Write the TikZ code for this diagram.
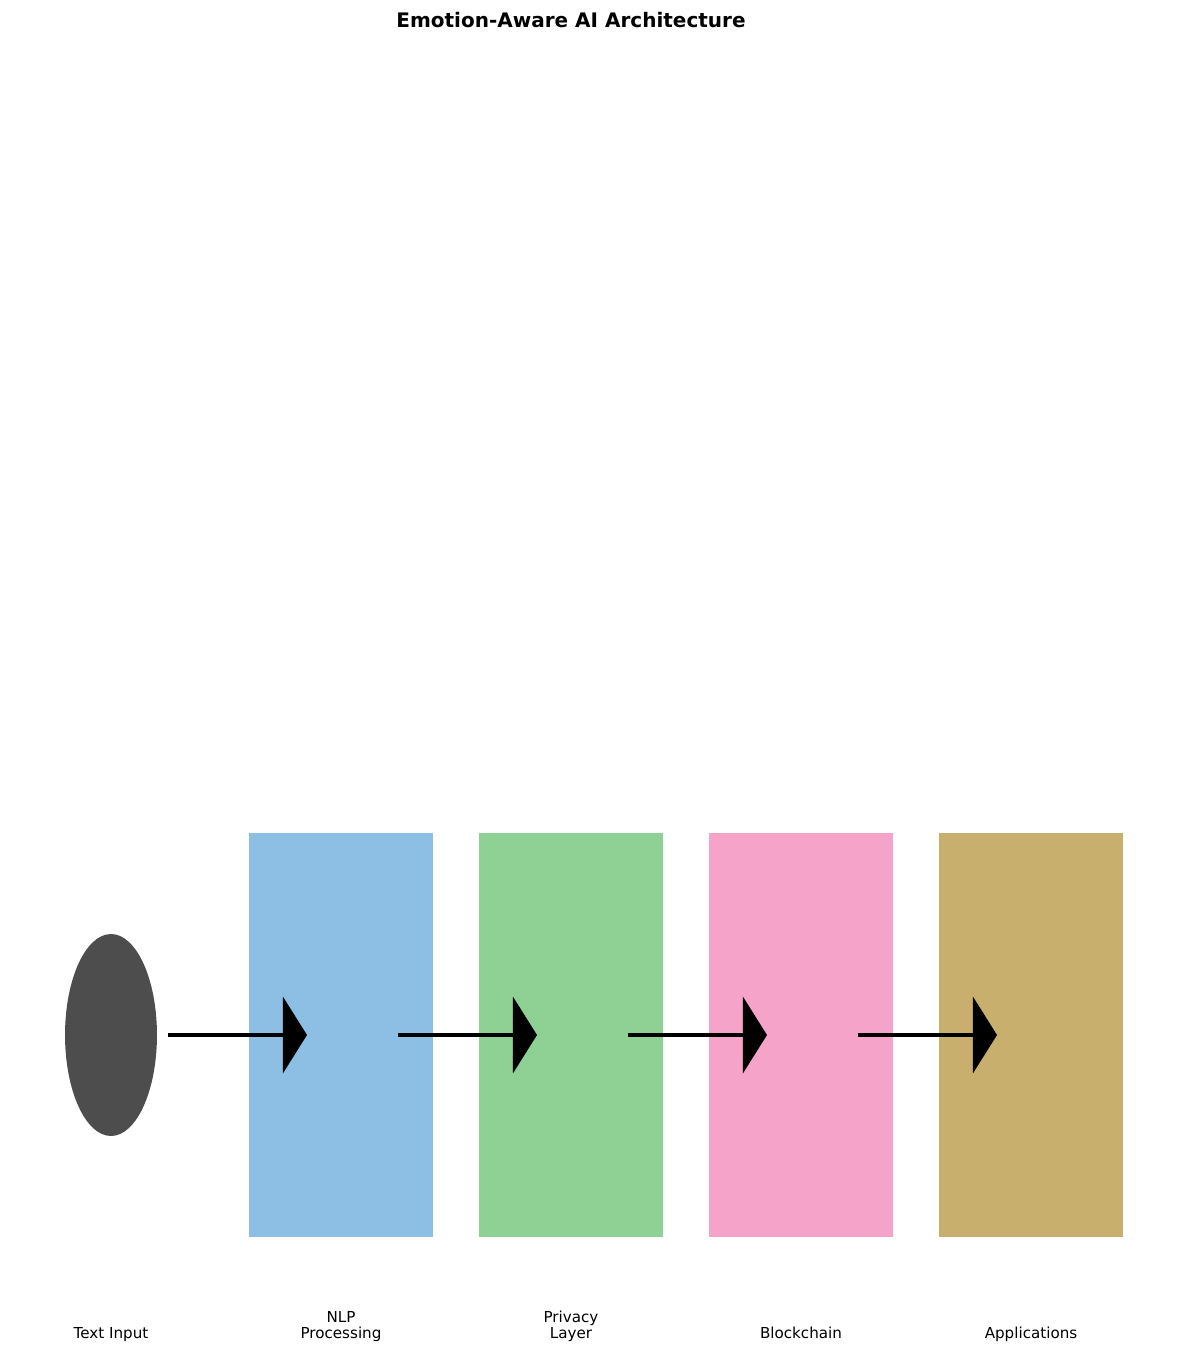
\documentclass[tikz,border=0pt]{standalone}
\usepackage{fontspec}
\setmainfont{DejaVu Sans}
\usepackage{xcolor}
\usepackage{tikz}
\usetikzlibrary{shapes.geometric, arrows.meta}
\definecolor{nlpblue}{HTML}{8DBFE4}
\definecolor{privgreen}{HTML}{8FD094}
\definecolor{chainpink}{HTML}{F5A3C8}
\definecolor{apptan}{HTML}{C9AF6D}
\definecolor{inputgray}{HTML}{4D4D4D}
\tikzstyle{source} = [ellipse, 
minimum width=66.2pt, 
minimum height=145.4pt, 
inner sep=0pt, 
draw=none, 
fill=inputgray]
\tikzstyle{layer} = [rectangle, 
minimum width=132.5pt, 
minimum height=290.9pt, 
inner sep=0pt, 
draw=none]
\tikzstyle{label} = [font=\fontsize{10.9}{12}\selectfont, 
align=center, 
inner sep=0pt, 
anchor=south]
\tikzstyle{arrow} = [line width=2.9pt,-{Triangle[length=17.3pt,width=54.7pt]}]

\begin{document}
\begin{tikzpicture}[x=0.72pt,y=-0.72pt]
\useasboundingbox (0,0) rectangle (1187,1353);

\node (title) [font=\fontsize{14.4}{17}\selectfont\bfseries, anchor=base] at (571,28) {Emotion-Aware AI Architecture};

\node (input) [source] at (111,1035) {};
\node (nlp) [layer, fill=nlpblue] at (341,1035) {};
\node (privacy) [layer, fill=privgreen] at (571,1035) {};
\node (chain) [layer, fill=chainpink] at (801,1035) {};
\node (apps) [layer, fill=apptan] at (1031,1035) {};

% arrow ends sit inside the next block
\coordinate (in_end) at (307,1035);
\coordinate (nlp_start) at (398,1035);
\coordinate (nlp_end) at (537,1035);
\coordinate (privacy_start) at (628,1035);
\coordinate (privacy_end) at (767,1035);
\coordinate (chain_start) at (858,1035);
\coordinate (chain_end) at (997,1035);

\draw [arrow] ([xshift=7.9pt]input.east) -- (in_end);
\draw [arrow] (nlp_start) -- (nlp_end);
\draw [arrow] (privacy_start) -- (privacy_end);
\draw [arrow] (chain_start) -- (chain_end);

% labels under the blocks
\node (input_lbl) [label] at (111,1344) {Text Input\strut};
\node (nlp_lbl) [label] at (341,1344) {NLP\\Processing\strut};
\node (privacy_lbl) [label] at (571,1344) {Privacy\\Layer\strut};
\node (chain_lbl) [label] at (801,1344) {Blockchain\strut};
\node (apps_lbl) [label] at (1031,1344) {Applications\strut};

\end{tikzpicture}
\end{document}
